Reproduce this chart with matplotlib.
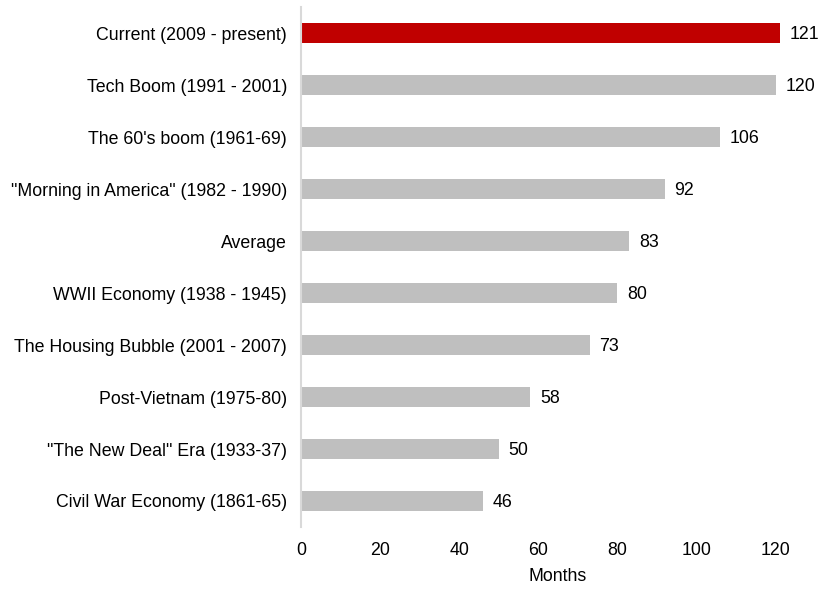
import matplotlib.pyplot as plt

plt.rcParams['font.family'] = ['Liberation Sans', 'DejaVu Sans']

# ------------------------ datos ----------------------------
labels = ['Current (2009 - present)', 'Tech Boom (1991 - 2001)', "The 60's boom (1961-69)",
          '"Morning in America" (1982 - 1990)', 'Average', 'WWII Economy (1938 - 1945)',
          'The Housing Bubble (2001 - 2007)', 'Post-Vietnam (1975-80)',
          '"The New Deal" Era (1933-37)', 'Civil War Economy (1861-65)']
months = [121, 120, 106, 92, 83, 80, 73, 58, 50, 46]
colores = ['#C00000'] + ['#BFBFBF'] * 9

# ------------------------ grafico ----------------------------
fig = plt.figure(figsize=(8.25, 5.91), dpi=100)
ax = fig.add_axes([0.3648, 0.1083, 0.6232, 0.8797])

pos = list(range(len(labels)))[::-1]
ax.barh(pos, months, height=0.385, color=colores)

# etiquetas con el valor al final de cada barra
for p, m in zip(pos, months):
    ax.annotate(str(m), (m, p), xytext=(7, -1), textcoords='offset points',
                va='center', ha='left', fontsize=12.8, color='#000000')

ax.set_yticks(pos)
ax.set_yticklabels(labels, fontsize=12.8)
ax.set_ylim(-0.5, 9.5)
ax.set_xlim(0, 130)
ax.set_xticks(range(0, 121, 20))
ax.tick_params(axis='x', labelsize=12.8, length=0, pad=11)
ax.tick_params(axis='y', length=0, pad=10)
ax.set_xlabel('Months', fontsize=12.8, labelpad=6)

for s in ['top', 'right', 'bottom']:
    ax.spines[s].set_visible(False)
ax.spines['left'].set_color('#D9D9D9')
ax.spines['left'].set_linewidth(1.5)

fig.savefig('out.png', dpi=100)
